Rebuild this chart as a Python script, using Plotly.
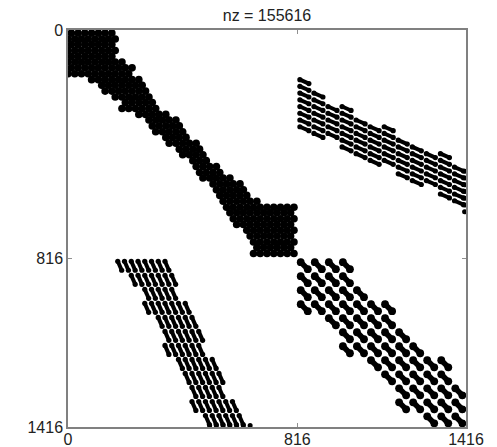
import plotly.graph_objects as go

TITLE = "nz = 155616"
TICKS = [0, 816, 1416]
TICK_LABELS = ["0", "816", "1416"]
N = 1416

# Dense diagonal part: (row, first column, last column)
DENSE_ROWS = [
    (11,0,160),(32,0,170),(52,0,160),(73,0,170),(94,0,171),(114,0,196),(135,0,228),(156,0,228),
    (177,64,263),(197,113,278),(218,117,295),(239,159,306),(259,181,313),(280,188,334),(301,230,356),
    (321,266,384),(342,277,402),(363,309,416),(383,337,437),(404,348,459),(425,380,480),(445,408,491),
    (466,426,509),(487,444,533),(508,451,555),(528,479,576),(549,497,633),(570,508,640),(590,533,654),
    (611,550,675),(632,564,804),(652,572,804),(673,586,804),(694,596,804),(714,621,804),(735,639,804),
    (756,650,804),(776,650,804),(797,650,804),
]
DENSE_COL_PITCH = 24

# Off-diagonal block (upper right, mirrored to lower left)
OFF_COLS = [816, 866, 916, 966, 1016, 1066, 1116, 1166, 1216, 1266, 1316, 1366]
OFF_TOP = [168, 216, 264, 264, 312, 336, 336, 384, 408, 432, 432, 480]
OFF_COUNT = [8, 7, 5, 7, 6, 6, 6, 6, 6, 5, 7, 6]
OFF_ROW_PITCH = 24
LAST_COL = 1411
LAST_ROWS = [504, 528, 552, 576, 600, 624, 648]

# Lower-right block: 12x12 cells, (cell row, first cell col, last cell col)
BR_ROWS = [(0,0,2),(1,0,3),(2,0,4),(3,1,5),(4,2,6),(5,3,7),(6,4,8),(7,5,9),(8,6,10),(9,7,11),(10,8,11),(11,9,11)]
BR_EXTRA = [(0,3),(3,0),(3,6),(6,3),(7,10),(10,7)]
BR_ORIGIN = 816
BR_CELL = 50

dx, dy = [], []
for k, (r, c0, c1) in enumerate(DENSE_ROWS):
    c = DENSE_COL_PITCH // 2 if k % 2 == 0 else 0
    while c <= c1:
        if c >= c0:
            dx.append(c); dy.append(r)
        c += DENSE_COL_PITCH

ox, oy = [], []
for c, t, n in zip(OFF_COLS, OFF_TOP, OFF_COUNT):
    for i in range(n):
        r = t + i * OFF_ROW_PITCH
        ox += [c + 9, c + 41, None]
        oy += [r + 9, r + 23, None]

lx, ly = [], []
for c, r in zip([LAST_COL] * len(LAST_ROWS), LAST_ROWS):
    lx.append(c); ly.append(r)

cells = []
for i, j0, j1 in BR_ROWS:
    for j in range(j0, j1 + 1):
        cells.append((i, j))
cells += BR_EXTRA
bx, by, blx, bly = [], [], [], []
for i, j in cells:
    x0 = BR_ORIGIN + j * BR_CELL
    y0 = BR_ORIGIN + i * BR_CELL
    bx += [x0 + 12, x0 + 37]
    by += [y0 + 12, y0 + 37]
    blx += [x0 + 6, x0 + 44, None]
    bly += [y0 + 6, y0 + 44, None]

fig = go.Figure()
fig.add_trace(go.Scatter(x=dx, y=dy, mode="markers", marker=dict(color="black", size=7.6, line_width=0)))
for X, Y in ((ox, oy), (oy, ox)):
    fig.add_trace(go.Scatter(x=X, y=Y, mode="lines+markers", line=dict(color="black", width=4),
                             marker=dict(color="black", size=5.2, line_width=0)))
for X, Y in ((lx, ly), (ly, lx)):
    fig.add_trace(go.Scatter(x=X, y=Y, mode="markers", marker=dict(color="black", size=5, line_width=0)))
fig.add_trace(go.Scatter(x=blx, y=bly, mode="lines", line=dict(color="black", width=5.5)))
fig.add_trace(go.Scatter(x=bx, y=by, mode="markers", marker=dict(color="black", size=7.8, line_width=0)))

axis = dict(tickmode="array", tickvals=TICKS, ticktext=TICK_LABELS, showgrid=False, zeroline=False,
            showline=True, linecolor="#808080", linewidth=1.5, mirror="ticks", ticks="inside", ticklen=4,
            tickcolor="#909090", tickwidth=1, automargin=False,
            tickfont=dict(family="Liberation Sans", size=16, color="#222"))
fig.update_layout(
    width=497, height=447, margin=dict(l=68, r=31, t=30, b=20), showlegend=False,
    paper_bgcolor="white", plot_bgcolor="white",
    title=dict(text=TITLE, x=267 / 497, xanchor="center", y=1 - 15 / 447, yanchor="middle",
               font=dict(family="Liberation Sans", size=16, color="#222")),
    xaxis=dict(axis, range=[0, N], ticklabelstandoff=-3),
    yaxis=dict(axis, range=[N, 0]),
)
fig.write_html("out.html", post_script="document.body.style.margin='0';", config=dict(displayModeBar=False))
